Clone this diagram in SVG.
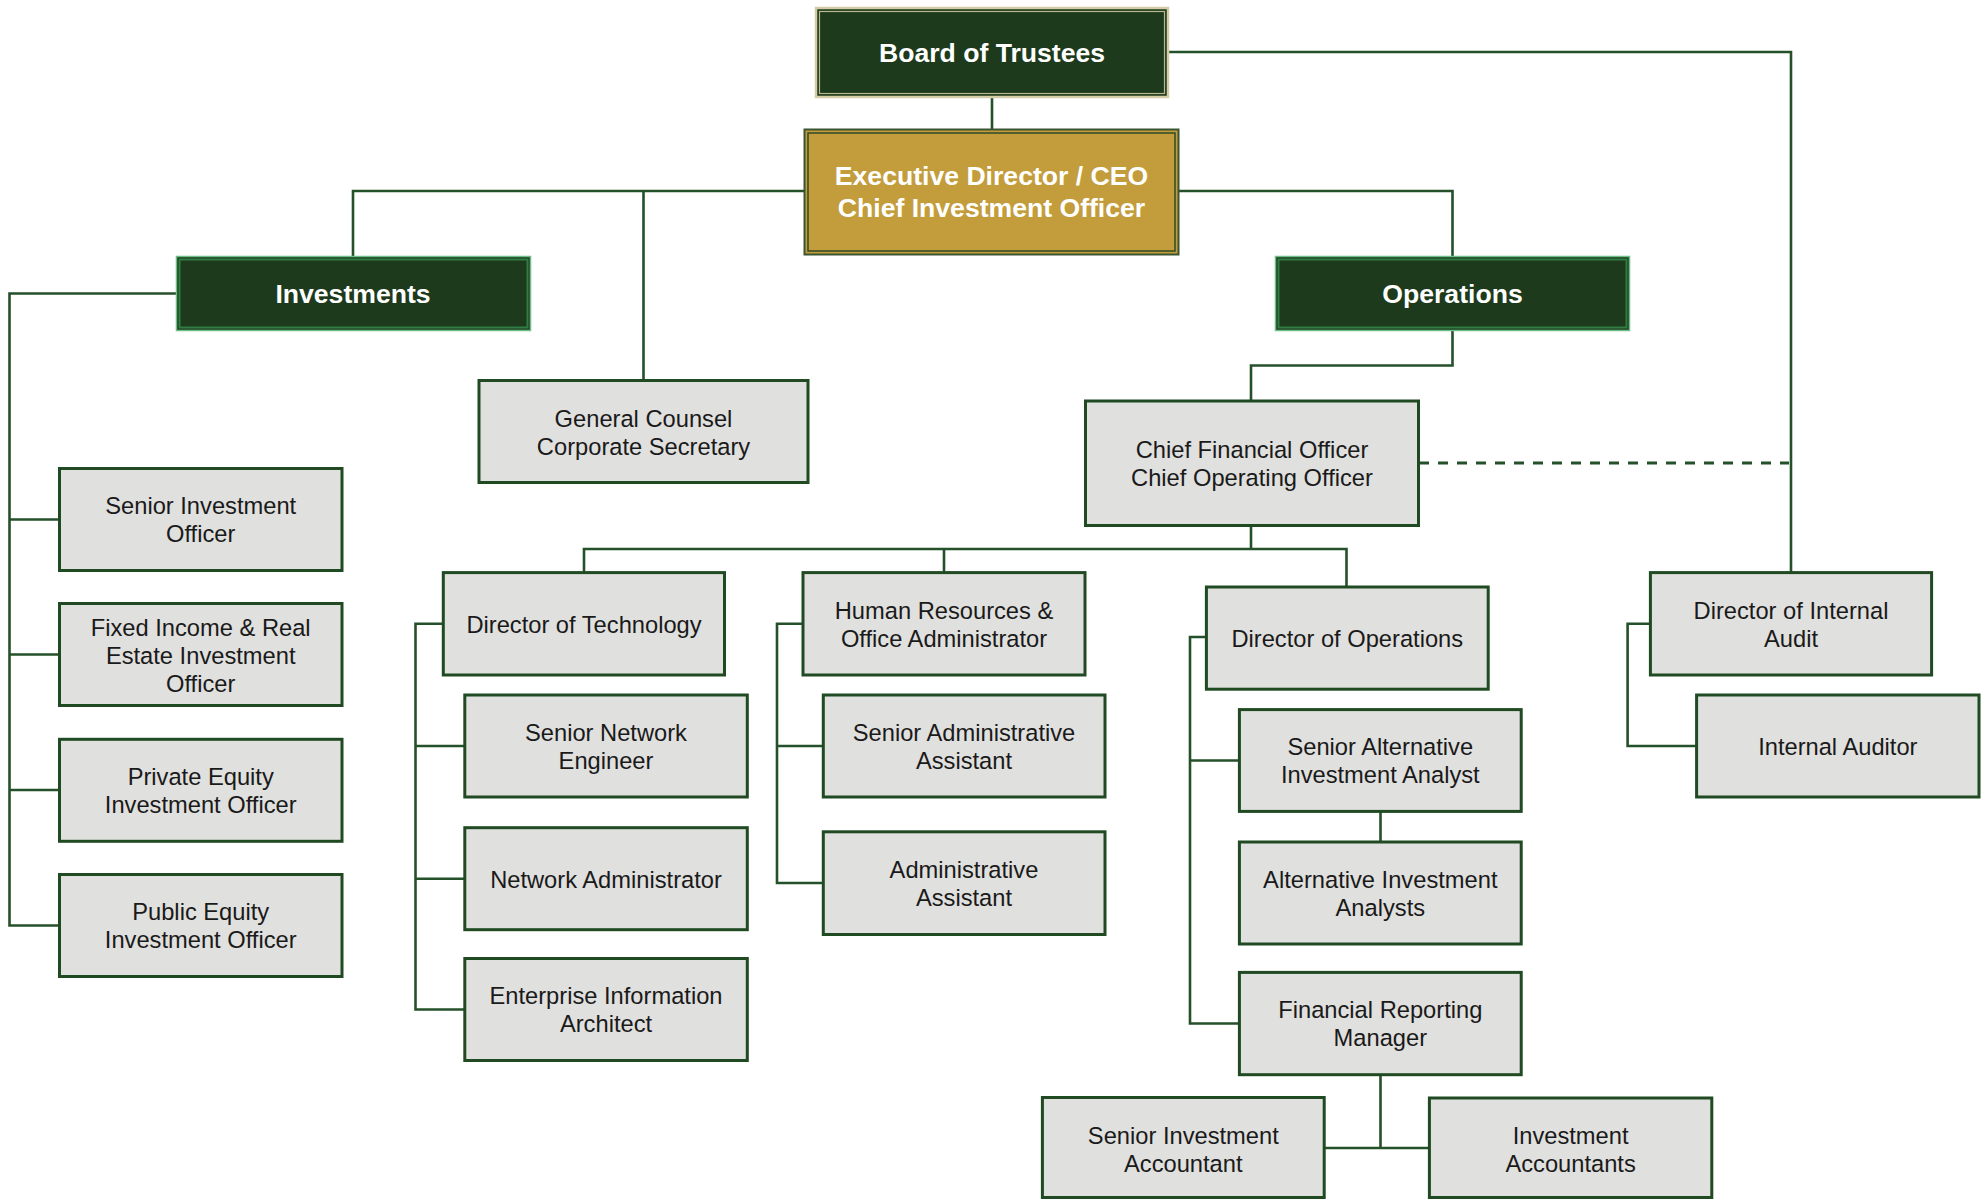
<svg xmlns="http://www.w3.org/2000/svg" width="1986" height="1199" viewBox="0 0 1986 1199">
<style>
.bg{fill:#ffffff}
.box{fill:#E0E0DE;stroke:#1F4A22;stroke-width:3}
.t{font-family:"Liberation Sans",Arial,sans-serif;font-size:23.7px;fill:#1a1a1a;text-anchor:middle}
.h{font-family:"Liberation Sans",Arial,sans-serif;font-size:26.6px;font-weight:bold;fill:#ffffff;text-anchor:middle}
.c{fill:none;stroke:#24502A;stroke-width:2.6}
.d{fill:none;stroke:#24502A;stroke-width:3;stroke-dasharray:10 9}
</style>
<rect class="bg" x="0" y="0" width="1986" height="1199"/>
<g id="connectors">
<path class="c" d="M992 98V129"/>
<path class="c" d="M1169 52H1791V572.6"/>
<path class="c" d="M804 191H353V256M643.5 191V380"/>
<path class="c" d="M1179 191H1452.5V256"/>
<path class="c" d="M176 293.5H9.5V925.5H59.5M9.5 519.5H59.5M9.5 654.5H59.5M9.5 790H59.5"/>
<path class="c" d="M1452.5 331V365.5H1251V401"/>
<path class="c" d="M1251 525.5V549M584 572.6V549H1346.5V587M944 549V572.6"/>
<path class="d" d="M1419 463H1789"/>
<path class="c" d="M443.3 623.8H415.5V1009.5H464.8M415.5 746H464.8M415.5 878.8H464.8"/>
<path class="c" d="M803 623.8H777V883H823.3M777 746H823.3"/>
<path class="c" d="M1206.4 637H1190V1023.5H1239.4M1190 760.5H1239.4"/>
<path class="c" d="M1380.5 811.4V842"/>
<path class="c" d="M1380.5 1074.7V1148M1324.2 1148H1429.4"/>
<path class="c" d="M1650.4 623.8H1627.6V746H1696.6"/>
</g>
<g id="board">
<rect x="816" y="8" width="352" height="89" fill="#1E3A1C" stroke="#D3CCA6" stroke-width="2.5"/>
<rect x="819.5" y="11.5" width="345" height="82" fill="none" stroke="#B9B78E" stroke-width="1.2"/>
<text class="h" x="992" y="61.5">Board of Trustees</text>
</g>
<g id="exec">
<rect x="804.5" y="129.5" width="374" height="125" fill="#C39D3C" stroke="#3A5530" stroke-width="2"/>
<rect x="808" y="133" width="367" height="118" fill="none" stroke="#2F4A28" stroke-width="1.5"/>
<text class="h" x="991.5" y="185">Executive Director / CEO</text>
<text class="h" x="991.5" y="216.5">Chief Investment Officer</text>
</g>
<g id="investments">
<rect x="176.5" y="256.5" width="354" height="74" fill="#1E3A1C" stroke="#6CBF86" stroke-width="1.5"/>
<rect x="179.5" y="259.5" width="348" height="68" fill="none" stroke="#2F7D45" stroke-width="2"/>
<text class="h" x="353" y="302.5">Investments</text>
</g>
<g id="operations">
<rect x="1275.5" y="256.5" width="354" height="74" fill="#1E3A1C" stroke="#6CBF86" stroke-width="1.5"/>
<rect x="1278.5" y="259.5" width="348" height="68" fill="none" stroke="#2F7D45" stroke-width="2"/>
<text class="h" x="1452.5" y="302.5">Operations</text>
</g>
<g id="general-counsel">
<rect class="box" x="479" y="380.5" width="329" height="102"/>
<text class="t" x="643.5" y="426.5">General Counsel</text>
<text class="t" x="643.5" y="454.5">Corporate Secretary</text>
</g>
<g id="cfo">
<rect class="box" x="1085.5" y="401" width="333" height="124.5"/>
<text class="t" x="1252" y="458">Chief Financial Officer</text>
<text class="t" x="1252" y="486">Chief Operating Officer</text>
</g>
<g id="senior-investment-officer">
<rect class="box" x="59.5" y="468.5" width="282.5" height="102"/>
<text class="t" x="200.7" y="514">Senior Investment</text>
<text class="t" x="200.7" y="542">Officer</text>
</g>
<g id="fixed-income">
<rect class="box" x="59.5" y="603.5" width="282.5" height="102"/>
<text class="t" x="200.7" y="635.5">Fixed Income &amp; Real</text>
<text class="t" x="200.7" y="663.5">Estate Investment</text>
<text class="t" x="200.7" y="691.5">Officer</text>
</g>
<g id="private-equity">
<rect class="box" x="59.5" y="739.3" width="282.5" height="102"/>
<text class="t" x="200.7" y="784.5">Private Equity</text>
<text class="t" x="200.7" y="812.5">Investment Officer</text>
</g>
<g id="public-equity">
<rect class="box" x="59.5" y="874.5" width="282.5" height="102"/>
<text class="t" x="200.7" y="920">Public Equity</text>
<text class="t" x="200.7" y="948">Investment Officer</text>
</g>
<g id="director-technology">
<rect class="box" x="443.3" y="572.6" width="281.2" height="102.4"/>
<text class="t" x="584" y="632.5">Director of Technology</text>
</g>
<g id="senior-network-engineer">
<rect class="box" x="464.8" y="695" width="282.5" height="102"/>
<text class="t" x="606" y="740.5">Senior Network</text>
<text class="t" x="606" y="768.5">Engineer</text>
</g>
<g id="network-administrator">
<rect class="box" x="464.8" y="827.7" width="282.5" height="102"/>
<text class="t" x="606" y="887.5">Network Administrator</text>
</g>
<g id="enterprise-architect">
<rect class="box" x="464.8" y="958.5" width="282.5" height="102"/>
<text class="t" x="606" y="1004">Enterprise Information</text>
<text class="t" x="606" y="1032">Architect</text>
</g>
<g id="hr">
<rect class="box" x="803" y="572.6" width="282" height="102.4"/>
<text class="t" x="944" y="618.5">Human Resources &amp;</text>
<text class="t" x="944" y="646.5">Office Administrator</text>
</g>
<g id="senior-admin-assistant">
<rect class="box" x="823.3" y="695" width="281.7" height="102"/>
<text class="t" x="964" y="740.5">Senior Administrative</text>
<text class="t" x="964" y="768.5">Assistant</text>
</g>
<g id="admin-assistant">
<rect class="box" x="823.3" y="831.8" width="281.7" height="102.7"/>
<text class="t" x="964" y="877.5">Administrative</text>
<text class="t" x="964" y="905.5">Assistant</text>
</g>
<g id="director-operations">
<rect class="box" x="1206.4" y="587" width="281.8" height="102.2"/>
<text class="t" x="1347.3" y="646.5">Director of Operations</text>
</g>
<g id="senior-alt-analyst">
<rect class="box" x="1239.4" y="709.6" width="281.8" height="101.8"/>
<text class="t" x="1380.3" y="755">Senior Alternative</text>
<text class="t" x="1380.3" y="783">Investment Analyst</text>
</g>
<g id="alt-analysts">
<rect class="box" x="1239.4" y="842" width="281.8" height="102"/>
<text class="t" x="1380.3" y="887.5">Alternative Investment</text>
<text class="t" x="1380.3" y="915.5">Analysts</text>
</g>
<g id="financial-reporting-manager">
<rect class="box" x="1239.4" y="972.4" width="281.8" height="102.3"/>
<text class="t" x="1380.3" y="1018">Financial Reporting</text>
<text class="t" x="1380.3" y="1046">Manager</text>
</g>
<g id="senior-investment-accountant">
<rect class="box" x="1042.4" y="1097.5" width="281.8" height="100"/>
<text class="t" x="1183.3" y="1143.5">Senior Investment</text>
<text class="t" x="1183.3" y="1171.5">Accountant</text>
</g>
<g id="investment-accountants">
<rect class="box" x="1429.4" y="1098" width="282.4" height="99.5"/>
<text class="t" x="1570.6" y="1143.5">Investment</text>
<text class="t" x="1570.6" y="1171.5">Accountants</text>
</g>
<g id="director-internal-audit">
<rect class="box" x="1650.4" y="572.6" width="281.2" height="102.4"/>
<text class="t" x="1791" y="618.5">Director of Internal</text>
<text class="t" x="1791" y="646.5">Audit</text>
</g>
<g id="internal-auditor">
<rect class="box" x="1696.6" y="695" width="282.4" height="102"/>
<text class="t" x="1837.8" y="754.5">Internal Auditor</text>
</g>
</svg>
